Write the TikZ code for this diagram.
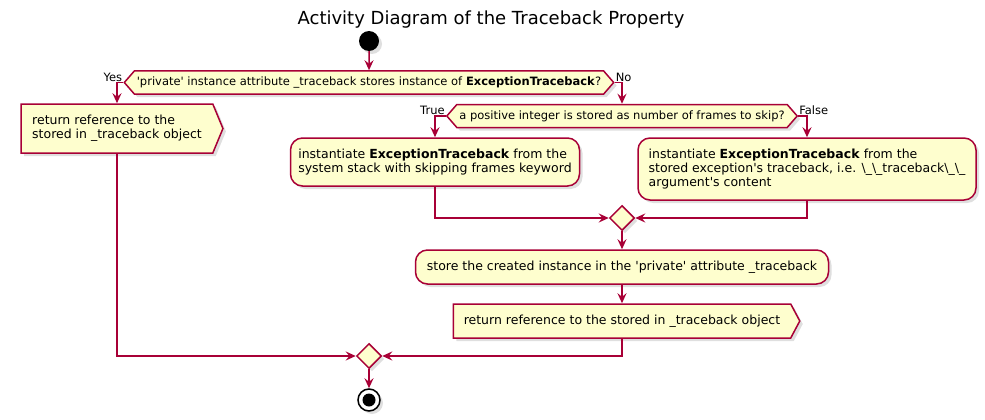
\documentclass[tikz,border=0pt]{standalone}
\usepackage{fontspec}
\setmainfont{DejaVu Sans}
\usetikzlibrary{arrows.meta,shapes.symbols,shapes.geometric,shadows}
\definecolor{umlred}{HTML}{A80036}
\definecolor{umlfill}{HTML}{FEFECE}
\newcommand{\sq}{\textquotesingle}
\newcommand{\bsu}{\textbackslash\_}

\begin{document}
\begin{tikzpicture}[
  x=1pt, y=-1pt,
  >={Stealth[length=10pt,width=9pt,inset=3.5pt]},
  flow/.style={->, draw=umlred, line width=1.5pt},
  shade/.style={drop shadow={shadow xshift=3pt, shadow yshift=-3pt, opacity=0.25}},
  boxtext/.style={font=\fontsize{12.5}{14.3}\selectfont},
  actnode/.style={rectangle, rounded corners=12pt, draw=umlred, fill=umlfill, line width=1.5pt, inner ysep=2pt, align=left, boxtext, shade},
  retnode/.style={signal, signal to=east, draw=umlred, fill=umlfill, line width=1.5pt, inner xsep=10.5pt, inner ysep=2pt, align=left, boxtext, shade},
  decnode/.style={signal, signal to=east and west, signal pointer angle=98, draw=umlred, fill=umlfill, line width=1.5pt, inner xsep=2.5pt, inner ysep=2pt, minimum height=23pt, font=\fontsize{11.5}{13}\selectfont, shade},
  joinnode/.style={diamond, draw=umlred, fill=umlfill, line width=1.5pt, inner sep=0pt, minimum width=25pt, minimum height=25pt, shade},
  brlabel/.style={font=\fontsize{11.5}{13}\selectfont, inner sep=1pt}
]
  \useasboundingbox (0,0) rectangle (985,420);
  \node[font=\fontsize{18}{20}\selectfont] (title) at (491,20) {Activity Diagram of the Traceback Property};

  \node[circle, fill=black, minimum size=20pt, inner sep=0pt, shade] (start) at (369,41) {};
  \node[decnode] (dec1) at (369,82.5) {\sq private\sq{} instance attribute \_traceback stores instance of \textbf{ExceptionTraceback}?};
  \node[brlabel, anchor=south east] (yes) at (dec1.west) {Yes};
  \node[brlabel, anchor=south west] (no) at (dec1.east) {No};

  \node[retnode, inner xsep=11pt, minimum height=49pt, signal pointer angle=135] (ret1) at (117,128.5) {return reference to the\\stored in \_traceback object};

  \node[decnode] (dec2) at (622,116) {a positive integer is stored as number of frames to skip?};
  \node[brlabel, anchor=south east] (true) at (dec2.west) {True};
  \node[brlabel, anchor=south west] (false) at (dec2.east) {False};

  \node[actnode, minimum width=289pt, minimum height=48pt] (act1) at (435,162) {instantiate \textbf{ExceptionTraceback} from the\\system stack with skipping frames keyword};
  \node[actnode, minimum width=338pt, minimum height=62pt] (act2) at (807,169) {instantiate \textbf{ExceptionTraceback} from the\\stored exception\sq s traceback, i.e. \bsu\bsu traceback\bsu\bsu\\argument\sq s content};

  \node[joinnode] (join1) at (622,218) {};
  \node[actnode, align=center, minimum width=413pt, minimum height=34pt] (store) at (622,267) {store the created instance in the \sq private\sq{} attribute \_traceback};
  \node[retnode, minimum height=34pt, signal pointer angle=124] (ret2) at (622,321) {return reference to the stored in \_traceback object};

  \node[joinnode] (join2) at (369,356) {};
  \node[circle, draw=black, fill=white, line width=1.5pt, minimum size=22pt, inner sep=0pt, shade,
        path picture={\fill[black] (path picture bounding box.center) circle (6.5pt);}] (stop) at (369,400) {};

  \draw[flow] (start) -- (dec1);
  \draw[flow] (dec1.west) -| (ret1.north);
  \draw[flow] (dec1.east) -| (dec2.north);
  \draw[flow] (dec2.west) -| (act1.north);
  \draw[flow] (dec2.east) -| (act2.north);
  \draw[flow] (act1.south) |- (join1.west);
  \draw[flow] (act2.south) |- (join1.east);
  \draw[flow] (join1) -- (store);
  \draw[flow] (store) -- (ret2);
  \draw[flow] (ret1.south) |- (join2.west);
  \draw[flow] (ret2.south) |- (join2.east);
  \draw[flow] (join2) -- (stop);
\end{tikzpicture}
\end{document}
